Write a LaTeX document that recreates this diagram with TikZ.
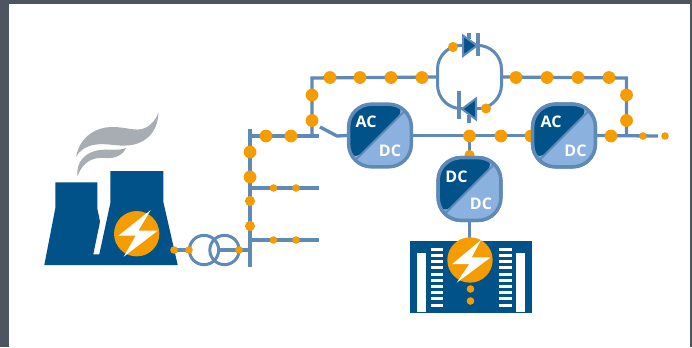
\documentclass[tikz,border=0pt]{standalone}
\usepackage{fontspec}
\setmainfont{Open Sans}
\definecolor{frame}{HTML}{4D5660}
\definecolor{deep}{HTML}{005288}
\definecolor{pale}{HTML}{8BB1DE}
\definecolor{wire}{HTML}{5F8AB8}
\definecolor{amber}{HTML}{F59C00}
\definecolor{smoke}{HTML}{A7ADB3}
\tikzset{
  x=0.75pt,y=-0.75pt,
  wireline/.style={draw=wire,line width=2.5pt},
  bigdot/.style={circle,fill=amber,inner sep=0pt,minimum size=9.6pt},
  middot/.style={circle,fill=amber,inner sep=0pt,minimum size=7.6pt},
  smalldot/.style={circle,fill=amber,inner sep=0pt,minimum size=5.7pt},
  conv/.style={rectangle,rounded corners=17pt,draw=wire,line width=2.6pt,fill=pale,inner sep=0pt,minimum size=47pt,
    path picture={
      \fill[deep] (path picture bounding box.south west) -- (path picture bounding box.north west) -- (path picture bounding box.north east) -- cycle;
      \draw[wire,line width=1.5pt] (path picture bounding box.south west) -- (path picture bounding box.north east);
    }},
  convtext/.style={text=white,font=\fontsize{12}{14}\selectfont\bfseries,inner sep=0pt},
  transfo/.style={circle,draw=wire,line width=2.25pt,inner sep=0pt,minimum size=22pt},
  diodeline/.style={draw=wire,line width=2.4pt},
  diodehead/.style={fill=deep,draw=wire,line width=1.5pt,line join=miter},
}
\begin{document}
\begin{tikzpicture}
\useasboundingbox (0,0) rectangle (692,347);
\fill[white] (0,0) rectangle (692,347);
\fill[frame] (0,0) rectangle (692,4);
\fill[frame] (0,0) rectangle (9,347);
\fill[frame] (690,0) rectangle (692,347);

% smoke
\fill[smoke] (76,157) .. controls (80,135) and (98,127) .. (112,127) .. controls (128,127) and (135,132) .. (145,128) .. controls (152,125) and (156,119) .. (158.5,112.5) .. controls (158,126) and (152,140) .. (134,144.5) .. controls (118,148) and (108,142) .. (93,145) .. controls (85,147) and (80,150) .. (76,157) -- cycle;
\fill[smoke] (77.5,176) .. controls (76,163) and (84,152) .. (100,150) .. controls (110,149) and (118,151) .. (126,148) .. controls (123,155) and (115,159) .. (105,158) .. controls (92,157) and (83,162) .. (77.5,176) -- cycle;

% plant
\fill[deep] (44.3,265) -- (55.3,208.3) -- (55.3,182.3) -- (97.3,182.3) -- (97.3,208.3) -- (100,221.7) -- (93.3,254.3) -- (99.3,254.3) -- (110.3,203.3) -- (110.3,171) -- (163.3,171) -- (163.3,201.7) -- (177.7,265) -- cycle;
\node[circle,fill=amber,inner sep=0pt,minimum size=34pt] (plantsun) at (136.7,233.7) {};
\fill[white] (150.7,210) -- (118.4,235.7) -- (135.7,235.7) -- (123.7,256.7) -- (157.7,230.7) -- (138.4,230.7) -- cycle;

% coordinates of the network
\coordinate (busT) at (250,129);
\coordinate (busB) at (250,267);
\coordinate (b1) at (250,136);
\coordinate (b1e) at (319,136);
\coordinate (b2) at (250,188);
\coordinate (b2e) at (319,188);
\coordinate (b3) at (250,240);
\coordinate (b3e) at (319,240);
\coordinate (tapL) at (312,136);
\coordinate (cornerL) at (312,78);
\coordinate (cornerR) at (626.5,78);
\coordinate (tapR) at (626.5,136);
\coordinate (swA) at (320,127);
\coordinate (swB) at (337,136);
\coordinate (endR) at (658,136);
\coordinate (mid) at (469.5,136);
\coordinate (trIn) at (174,250);
\coordinate (trOut) at (250,250);

% network lines
\path[wireline] (busT) -- (busB);
\path[wireline] (b1) -- (b1e);
\path[wireline] (b2) -- (b2e);
\path[wireline] (b3) -- (b3e);
\path[wireline] (trIn) -- (trOut);
\node[transfo,fill=white] (t1) at (204,250) {};
\node[transfo] (t2) at (224.5,250) {};
\node[rectangle,draw=wire,line width=2.25pt,rounded corners=18pt,minimum width=48pt,minimum height=47.5pt,inner sep=0pt] (loop) at (469.5,77) {};

\node[conv] (c1) at (380,135.5) {};
\node[conv] (c2) at (564,135.5) {};
\node[conv] (c3) at (469.5,189) {};
\path[wireline] (tapL) -- (cornerL) -- (loop.west);
\path[wireline] (loop.east) -- (cornerR) -- (tapR);
\path[wireline] (swA) -- (swB) -- (c1.west);
\path[wireline] (c1.east) -- (c2.west);
\path[wireline] (c2.east) -- (endR);
\path[wireline] (mid) -- (c3.north);

% battery box
\node[rectangle,fill=deep,inner sep=0pt,minimum width=91.5pt,minimum height=54pt] (box) at (471,277) {};
\path[wireline] (c3.south) -- (box.north -| c3.south);
\fill[white] (417,253) rectangle (426,312);
\fill[white] (516,253) rectangle (525,312);
\foreach \yy in {249.3,255.5,261.7,267.9,274.1,280.3,286.5,292.7,298.9,305}{
  \fill[white] (431,\yy-1.5) rectangle (443,\yy+1.5);
  \fill[white] (499,\yy-1.5) rectangle (512,\yy+1.5);
}
\node[circle,fill=amber,inner sep=0pt,minimum size=34pt] (boxsun) at (470,260) {};
\fill[white] (481,240) -- (452.3,264) -- (469.3,264) -- (456.7,282.7) -- (490.7,257.3) -- (471.7,257.3) -- cycle;
\node[smalldot] (bd1) at (470.5,289) {};
\node[smalldot] (bd2) at (470.5,301) {};

% diodes
\draw[diodehead] (463,35.5) -- (463,56) -- (477,45.5) -- cycle;
\draw[diodeline] (478,33) -- (478,56);
\draw[diodeline] (469,33) -- (469,39);
\draw[diodehead] (476,98.5) -- (476,119.5) -- (462,109) -- cycle;
\draw[diodeline] (459,91) -- (459,119);
\draw[diodeline] (469,115) -- (469,123);

% dots
\node[bigdot] (d1) at (266,136) {};
\node[bigdot] (d2) at (291,136) {};
\node[bigdot] (d3) at (250,152) {};
\node[bigdot] (d4) at (250,177) {};
\node[middot] (d5) at (250,201) {};
\node[middot] (d6) at (250,226) {};
\node[smalldot] (d7) at (273.5,188) {};
\node[smalldot] (d8) at (296,188) {};
\node[smalldot] (d9) at (273.5,240) {};
\node[smalldot] (d10) at (296,240) {};
\node[smalldot] (d11) at (174,250) {};
\node[smalldot] (d12) at (189,250) {};
\node[smalldot] (d13) at (239,250) {};
\node[bigdot] (d14) at (312,95) {};
\node[bigdot] (d15) at (312,120.5) {};
\node[bigdot] (d16) at (330,77.5) {};
\node[bigdot] (d17) at (360,77.5) {};
\node[bigdot] (d18) at (391,77.5) {};
\node[bigdot] (d19) at (422,77.5) {};
\node[middot] (d20) at (453,47) {};
\node[middot] (d21) at (486,108.5) {};
\node[bigdot] (d22) at (516,77.5) {};
\node[bigdot] (d23) at (547,77.5) {};
\node[bigdot] (d24) at (578,77.5) {};
\node[bigdot] (d25) at (609,77.5) {};
\node[bigdot] (d26) at (626.5,95) {};
\node[bigdot] (d27) at (626.5,120.5) {};
\node[bigdot] (d28) at (611,136) {};
\node[smalldot] (d29) at (643,136) {};
\node[smalldot] (d30) at (665,136) {};
\node[bigdot] (d31) at (469.5,136) {};
\node[bigdot] (d32) at (501,136) {};
\node[bigdot] (d33) at (531,136) {};
\node[middot] (d34) at (469.5,155) {};

% converters on top of hidden dots
\node[conv] at (c2) {};
\node[conv] at (c3) {};
\node[convtext] (l1) at (366,121.5) {AC};
\node[convtext] (l2) at (390,150.5) {DC};
\node[convtext] (l3) at (551,121.5) {AC};
\node[convtext] (l4) at (575.5,150.5) {DC};
\node[convtext] (l5) at (456.5,176.5) {DC};
\node[convtext] (l6) at (481,204) {DC};
\end{tikzpicture}
\end{document}
